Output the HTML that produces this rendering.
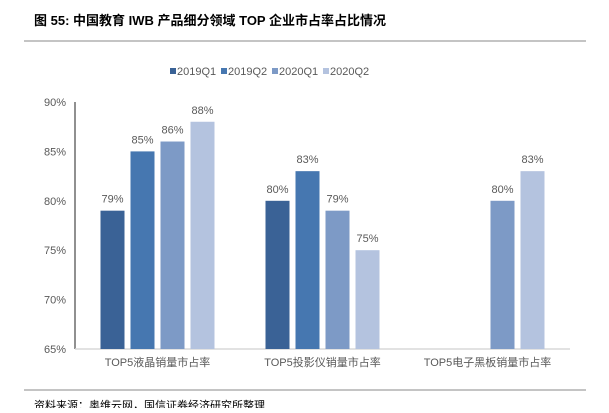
<!DOCTYPE html>
<html><head><meta charset="utf-8"><style>
body{margin:0;background:#fff;width:609px;height:408px;overflow:hidden;font-family:"Liberation Sans","Noto Sans CJK SC",sans-serif}
</style></head><body>
<svg width="609" height="408" xmlns="http://www.w3.org/2000/svg" font-family="Liberation Sans, Noto Sans CJK SC, sans-serif">
<text x="34" y="25" font-size="13" font-weight="bold" fill="#000">图 55:  中国教育 IWB 产品细分领域 TOP 企业市占率占比情况</text>
<line x1="24" y1="41" x2="586" y2="41" stroke="#888"/>
<line x1="24" y1="390" x2="586" y2="390" stroke="#888"/>
<text x="34" y="409" font-size="11" fill="#000">资料来源：奥维云网，国信证券经济研究所整理</text>
<g id="legend"></g>
<g id="plot"></g>
</svg>
<script>
const categories=["TOP5液晶销量市占率","TOP5投影仪销量市占率","TOP5电子黑板销量市占率"];
const seriesNames=["2019Q1","2019Q2","2020Q1","2020Q2"];
const s2019Q1=[79,80,null];
const s2019Q2=[85,83,null];
const s2020Q1=[86,79,80];
const s2020Q2=[88,75,83];
const yTicks=[65,70,75,80,85,90];
const series=[s2019Q1,s2019Q2,s2020Q1,s2020Q2];
const colors=["#3a6296","#4677b0","#7d9ac6","#b4c3df"];
const NS="http://www.w3.org/2000/svg";
const x0=75,x1=570,yTop=102,yBot=349,yMin=65,yMax=90;
const y=v=>yBot-(v-yMin)/(yMax-yMin)*(yBot-yTop);
const cw=(x1-x0)/categories.length,bw=24,step=30;
const plot=document.getElementById('plot');
function mk(t,a,p){const e=document.createElementNS(NS,t);for(const k in a)e.setAttribute(k,a[k]);(p||plot).appendChild(e);return e;}
yTicks.forEach(v=>{const t=mk('text',{x:x0-9,y:y(v)+4,'font-size':11,fill:'#595959','text-anchor':'end'});t.textContent=v+'%';

});
const ax=mk('line',{x1:x0,y1:yTop,x2:x0,y2:yBot,stroke:'#222'});


const xa=mk('line',{x1:x0,y1:yBot,x2:x1,y2:yBot,stroke:'#d9d9d9','stroke-width':1.5});


categories.forEach((c,i)=>{const cx=x0+cw*(i+0.5);
series.forEach((s,j)=>{const v=s[i];if(v==null)return;const bx=cx+(j-1.5)*step-bw/2;
const r=mk('rect',{x:bx,y:y(v),width:bw,height:yBot-y(v),fill:colors[j]});


const t=mk('text',{x:bx+bw/2,y:y(v)-8,'font-size':11,fill:'#595959','text-anchor':'middle'});t.textContent=v+'%';

});
const t=mk('text',{x:cx,y:yBot+17,'font-size':11,fill:'#595959','text-anchor':'middle'});t.textContent=categories[i];

});
const lg=document.getElementById('legend');
const lx=[170,221,272,323];
seriesNames.forEach((n,j)=>{const g=mk('g',{},lg);


mk('rect',{x:lx[j],y:68,width:6,height:6,fill:colors[j]},g);
const t=mk('text',{x:lx[j]+7,y:75,'font-size':11,fill:'#595959'},g);t.textContent=n;});
</script>
</body></html>
